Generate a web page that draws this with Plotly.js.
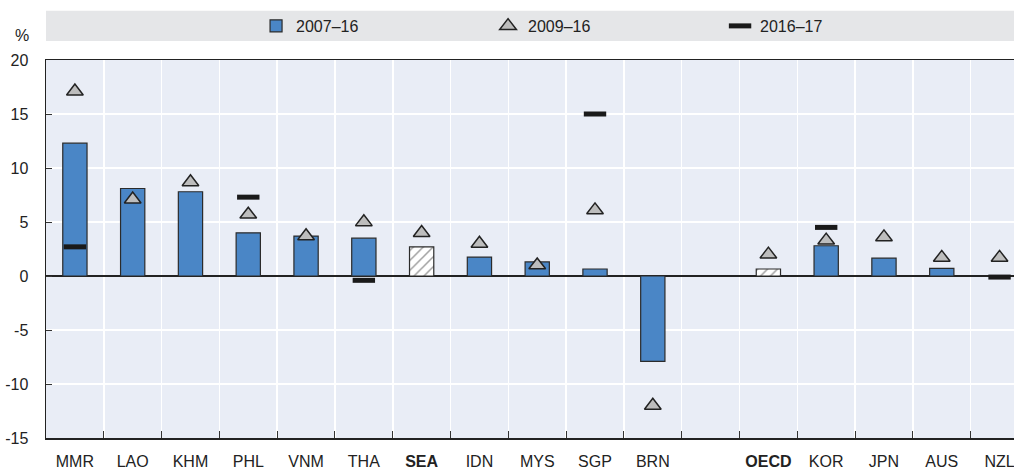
<!DOCTYPE html>
<html><head><meta charset="utf-8">
<script src="https://cdn.plot.ly/plotly-3.0.1.min.js"></script>
<style>html,body{margin:0;padding:0;background:#fff}#chart{width:1014px;height:472px}</style>
</head><body><div id="chart"></div>
<script>
const categories = ["MMR","LAO","KHM","PHL","VNM","THA","<b>SEA</b>","IDN","MYS","SGP","BRN"," ","<b>OECD</b>","KOR","JPN","AUS","NZL"];
const growth0716 = [12.3, 8.1, 7.8, 4.0, 3.7, 3.5, 2.7, 1.75, 1.3, 0.65, -7.9, null, 0.65, 2.8, 1.65, 0.7, null];
const growth0916 = [17.1, 7.1, 8.7, 5.7, 3.7, 5.0, 4.0, 3.0, 1.0, 6.1, -12.0, null, 2.0, 3.3, 3.6, 1.7, 1.7];
const growth1617 = [2.7, null, null, 7.3, null, -0.4, null, null, null, 15.0, null, null, null, 4.5, null, null, -0.1];
const aggregates = ["<b>SEA</b>","<b>OECD</b>"];
const yTicks = [-15,-10,-5,0,5,10,15,20];
const yTickText = ["-15","-10","-5","0","5","10","15","20"];

const isAgg = categories.map(c => aggregates.includes(c));
const FONT = "'Liberation Sans',Arial,sans-serif";

const traces = [
  {type:"bar", name:"2007–16", x:categories, y:growth0716, width:0.42,
   marker:{color:isAgg.map(a=>a?"#ffffff":"#4a86c6"),
           line:{color:"#2b2b2b", width:1.2},
           pattern:{shape:isAgg.map(a=>a?"/":""), fgcolor:"#1a1a1a", fillmode:"overlay", size:7, solidity:0.22}}},
  {type:"scatter", mode:"markers", name:"2009–16", x:categories, y:growth0916,
   marker:{symbol:"triangle-up", size:14.5, color:"#bdbdbd", line:{color:"#222", width:1.5}}},
  {type:"scatter", mode:"markers", name:"2016–17", x:categories, y:growth1617,
   marker:{symbol:"line-ew", size:16, color:"#1a1a1a", line:{color:"#1a1a1a", width:5}}}
];

const layout = {
  width:1014, height:472,
  margin:{l:46, r:0, t:60, b:34},
  paper_bgcolor:"#ffffff", plot_bgcolor:"#e9edf6",
  font:{family:FONT, size:16, color:"#222"},
  showlegend:true,
  legend:{orientation:"h", x:0.217, xanchor:"left", y:1.09, yanchor:"middle",
          bgcolor:"rgba(0,0,0,0)", entrywidth:187, font:{size:16, family:FONT},
          traceorder:"normal"},
  xaxis:{type:"category", categoryorder:"array", categoryarray:categories, range:[-0.5,16.25],
         tickson:"boundaries", ticks:"inside", ticklen:7, tickcolor:"#333", tickangle:0,
         ticklabelstandoff:8,
         showgrid:true, gridcolor:"#ffffff", gridwidth:1.5,
         showline:true, mirror:true, linecolor:"#222", linewidth:1.5,
         tickfont:{size:16, family:FONT}, fixedrange:true, automargin:false},
  yaxis:{range:[-15,20], tickvals:yTicks, ticktext:yTickText,
         ticks:"inside", ticklen:6, tickcolor:"#333", ticklabelstandoff:13,
         showgrid:true, gridcolor:"#ffffff", gridwidth:1.5,
         zeroline:true, zerolinecolor:"#222", zerolinewidth:2,
         showline:true, mirror:true, linecolor:"#222", linewidth:1.5,
         tickfont:{size:16, family:FONT}, fixedrange:true, automargin:false},
  shapes:[{type:"rect", xref:"paper", yref:"paper", x0:0, x1:1, y0:1.05, y1:1.13,
           fillcolor:"#e5e6e8", line:{width:0}, layer:"below"}],
  annotations:[{text:"%", xref:"paper", yref:"paper", x:-0.025, y:1.066,
                xanchor:"center", yanchor:"middle", showarrow:false, font:{size:16, family:FONT}}]
};

Plotly.newPlot("chart", traces, layout, {displayModeBar:false, staticPlot:true});
</script></body></html>
